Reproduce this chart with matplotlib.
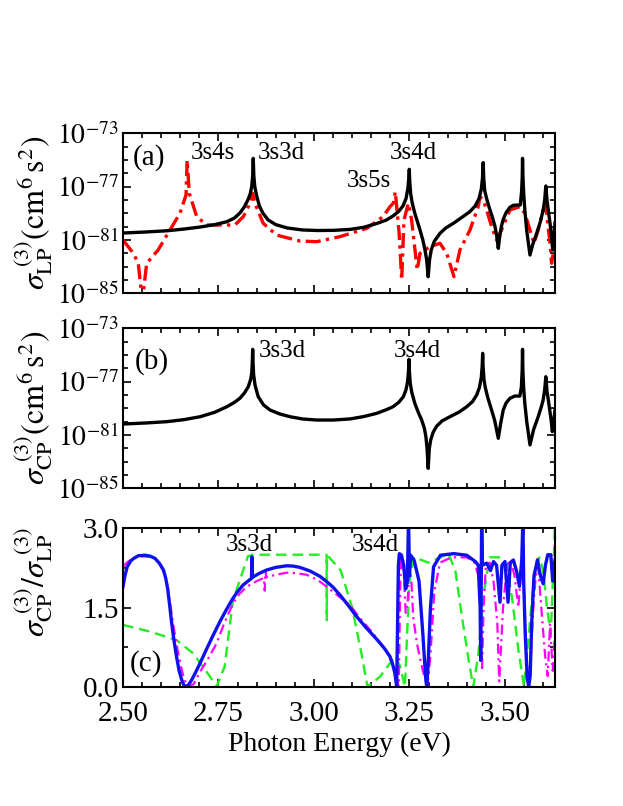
import numpy as np
import matplotlib
matplotlib.use('Agg')
import matplotlib.pyplot as plt
from matplotlib.ticker import FixedLocator, MultipleLocator, FixedFormatter, NullFormatter

plt.rcParams['font.family'] = ['Liberation Serif', 'DejaVu Serif']
plt.rcParams['mathtext.fontset'] = 'stix'

# ---------------- data (log10 of cross sections) ----------------
# panel (a) black solid
a_black_E = [2.500, 2.560, 2.615, 2.660, 2.702, 2.740, 2.772, 2.792, 2.806, 2.817, 2.827, 2.833, 2.837, 2.8395,
             2.841, 2.8425, 2.845, 2.850, 2.857, 2.8665, 2.880, 2.900, 2.930, 2.970, 3.008, 3.050, 3.094, 3.130,
             3.165, 3.190, 3.207, 3.222, 3.233, 3.241, 3.246, 3.2485, 3.2495, 3.2505, 3.253, 3.257, 3.263, 3.270,
             3.2775, 3.285, 3.2906, 3.295, 3.299, 3.3025, 3.307, 3.315, 3.330, 3.345, 3.365, 3.385, 3.408, 3.422,
             3.432, 3.438, 3.441, 3.443, 3.4445, 3.447, 3.452, 3.458, 3.466, 3.474, 3.479, 3.4825, 3.486, 3.4905,
             3.4955, 3.503, 3.513, 3.522, 3.531, 3.540, 3.5435, 3.5452, 3.546, 3.5472, 3.549, 3.552, 3.557, 3.5655,
             3.572, 3.583, 3.593, 3.600, 3.604, 3.607, 3.610, 3.614, 3.618, 3.622, 3.625, 3.628, 3.631]
a_black_L = [-80.48, -80.40, -80.31, -80.18, -80.03, -79.85, -79.63, -79.35, -78.98, -78.55, -78.0, -77.55, -77.0, -76.2,
             -74.88, -76.2, -77.0, -77.7, -78.45, -79.0, -79.5, -79.85, -80.1, -80.25, -80.29, -80.28, -80.21, -80.05,
             -79.76, -79.5, -79.2, -78.85, -78.45, -77.9, -77.1, -76.3, -75.7, -76.5, -77.5, -78.2, -78.9, -79.55,
             -80.25, -81.0, -81.75, -82.5, -83.76, -82.5, -81.75, -81.1, -80.5, -80.1, -79.75, -79.35, -78.88, -78.45,
             -77.9, -77.2, -76.4, -75.2, -76.4, -77.3, -77.9, -78.5, -79.2, -80.0, -80.8, -81.63, -80.8, -80.0,
             -79.45, -78.95, -78.55, -78.4, -78.38, -78.38, -77.4, -76.3, -74.88, -76.3, -77.5, -78.75, -80.3, -82.13,
             -81.4, -80.5, -79.6, -78.75, -78.0, -76.95, -78.0, -78.9, -79.75, -80.8, -81.75, -80.8, -79.73]

# panel (a) red dash-dot
a_red_E = [2.500, 2.527, 2.540, 2.5505, 2.562, 2.592, 2.623, 2.649, 2.665, 2.668, 2.6735, 2.693, 2.719, 2.754,
           2.793, 2.815, 2.8325, 2.8395, 2.8455, 2.867, 2.902, 2.963, 3.007, 3.068, 3.138, 3.181, 3.199, 3.2075,
           3.213, 3.2165, 3.223, 3.2296, 3.2356, 3.247, 3.2556, 3.2644, 3.2704, 3.2775, 3.3037, 3.3298, 3.3474,
           3.3665, 3.3822, 3.4084, 3.430, 3.4346, 3.443, 3.452, 3.465, 3.478, 3.491, 3.513, 3.539, 3.552, 3.5655,
           3.576, 3.587, 3.600, 3.607, 3.618, 3.622, 3.631]
a_red_L = [-81.0, -82.0, -82.75, -85.6, -82.75, -81.75, -80.25, -79.0, -77.63, -75.0, -77.5, -79.25, -79.88, -79.88,
           -79.88, -79.25, -78.25, -77.5, -78.25, -79.75, -80.63, -81.08, -81.13, -80.75, -80.13, -79.25, -78.5, -78.25,
           -77.38, -78.5, -80.5, -84.0, -79.5, -78.25, -79.5, -81.75, -83.25, -82.0, -81.5, -81.25, -82.0,
           -83.75, -81.75, -80.25, -78.5, -77.75, -78.0, -78.75, -80.0, -81.0, -80.25, -78.75, -78.5, -79.0, -80.25,
           -81.25, -80.25, -78.75, -78.5, -81.25, -82.75, -81.25]

# panel (b) black solid
b_black_E = [2.500, 2.560, 2.616, 2.660, 2.702, 2.740, 2.772, 2.792, 2.806, 2.818, 2.828, 2.834, 2.837, 2.8385,
             2.8395, 2.8405, 2.842, 2.846, 2.854, 2.868, 2.885, 2.910, 2.937, 2.970, 3.007, 3.050, 3.094, 3.130,
             3.164, 3.190, 3.207, 3.222, 3.234, 3.241, 3.245, 3.2475, 3.2487, 3.2497, 3.252, 3.256, 3.264, 3.273,
             3.282, 3.289, 3.293, 3.296, 3.299, 3.302, 3.3055, 3.312, 3.321, 3.335, 3.356, 3.380, 3.400, 3.415,
             3.426, 3.433, 3.438, 3.4405, 3.4416, 3.4428, 3.445, 3.448, 3.455, 3.465, 3.473, 3.4825, 3.489, 3.4955,
             3.503, 3.513, 3.526, 3.539, 3.543, 3.545, 3.546, 3.547, 3.549, 3.552, 3.557, 3.5655, 3.575, 3.587,
             3.595, 3.600, 3.604, 3.607, 3.610, 3.616, 3.621, 3.624, 3.628, 3.631]
b_black_L = [-80.18, -80.10, -80.0, -79.85, -79.63, -79.3, -78.88, -78.55, -78.25, -77.85, -77.38, -76.85, -76.38, -75.6,
             -74.58, -75.6, -76.5, -77.3, -78.13, -78.75, -79.13, -79.42, -79.63, -79.8, -79.88, -79.88, -79.8, -79.62,
             -79.38, -79.1, -78.88, -78.55, -78.13, -77.6, -77.0, -76.2, -75.33, -76.2, -77.1, -77.8, -78.63, -79.3,
             -79.88, -80.5, -81.13, -82.0, -83.5, -82.0, -81.38, -80.8, -80.35, -79.95, -79.63, -79.28, -78.88, -78.5,
             -78.0, -77.45, -76.7, -75.8, -74.88, -75.9, -76.8, -77.38, -78.2, -79.13, -79.9, -81.25, -80.1, -79.13,
             -78.6, -78.25, -78.08, -78.08, -77.4, -76.2, -74.58, -76.2, -77.5, -78.63, -80.0, -81.75, -80.6, -79.63,
             -78.9, -78.38, -77.6, -76.63, -77.7, -78.88, -79.9, -80.75, -79.9, -79.13]

# panel (c) ratio curves
c_blue_E = [2.500, 2.505, 2.511, 2.520, 2.528, 2.540, 2.558, 2.572, 2.584, 2.596, 2.606, 2.612, 2.617, 2.622,
            2.6275, 2.634, 2.6406, 2.647, 2.6537, 2.659, 2.665, 2.672, 2.680, 2.690, 2.7016, 2.718, 2.7364, 2.755,
            2.7715, 2.785, 2.7976, 2.815, 2.8325, 2.8365, 2.8375, 2.8385, 2.855, 2.876, 2.900, 2.9285, 2.945, 2.963,
            2.990, 3.0157, 3.035, 3.0505, 3.070, 3.094, 3.107, 3.135, 3.164, 3.185, 3.199, 3.205, 3.212, 3.2165,
            3.221, 3.2235, 3.229, 3.235, 3.240, 3.2445, 3.2475, 3.250, 3.253, 3.262, 3.275, 3.285, 3.292, 3.295,
            3.298, 3.305, 3.313, 3.331, 3.366, 3.400, 3.4225, 3.430, 3.435, 3.4365, 3.4375, 3.439, 3.441, 3.452,
            3.462, 3.470, 3.478, 3.487, 3.492, 3.500, 3.508, 3.514, 3.522, 3.530, 3.538, 3.544, 3.547, 3.549,
            3.553, 3.558, 3.562, 3.566, 3.570, 3.576, 3.585, 3.593, 3.600, 3.606, 3.612, 3.620, 3.625, 3.631]
c_blue_V = [1.895, 2.10, 2.27, 2.38, 2.43, 2.48, 2.49, 2.47, 2.43, 2.33, 2.21, 2.05, 1.85, 1.55,
            1.2, 0.85, 0.55, 0.30, 0.13, 0.03, 0.0, 0.04, 0.13, 0.27, 0.443, 0.70, 0.98, 1.25,
            1.47, 1.64, 1.78, 1.93, 2.03, 2.05, 2.46, 2.07, 2.14, 2.21, 2.26, 2.29, 2.285, 2.26,
            2.19, 2.09, 1.98, 1.88, 1.72, 1.50, 1.37, 1.13, 0.90, 0.72, 0.57, 0.45, 0.25, 0.0,
            2.3, 2.52, 2.49, 2.30, 1.85, 2.0, 3.2, 2.1, 2.49, 2.40, 2.0, 1.0, 0.2, 0.0,
            0.3, 1.5, 2.27, 2.49, 2.52, 2.49, 2.37, 2.3, 1.5, 0.5, 1.5, 3.2, 2.3, 2.34,
            2.2, 2.37, 2.3, 1.6, 2.3, 2.37, 1.6, 2.35, 2.4, 2.2, 1.9, 2.4, 3.2, 2.0,
            1.0, 0.2, 0.0, 0.2, 1.2, 2.1, 2.4, 2.1, 1.95, 2.3, 2.5, 2.5, 2.0, 2.4]

c_mag_E = [2.500, 2.510, 2.520, 2.535, 2.553, 2.570, 2.585, 2.598, 2.610, 2.618, 2.625, 2.632, 2.638, 2.644,
           2.650, 2.655, 2.660, 2.666, 2.672, 2.685, 2.700, 2.722, 2.745, 2.765, 2.788, 2.805, 2.8235, 2.850,
           2.869, 2.871, 2.873, 2.875, 2.900, 2.929, 2.955, 2.981, 3.010, 3.034, 3.060, 3.094, 3.120, 3.150,
           3.170, 3.190, 3.210, 3.222, 3.226, 3.229, 3.235, 3.240, 3.245, 3.250, 3.255, 3.260, 3.270, 3.285,
           3.297, 3.305, 3.315, 3.330, 3.360, 3.400, 3.420, 3.435, 3.440, 3.444, 3.450, 3.460, 3.470, 3.480,
           3.485, 3.495, 3.505, 3.515, 3.525, 3.535, 3.545, 3.550, 3.557, 3.562, 3.567, 3.575, 3.585, 3.595,
           3.605, 3.612, 3.618, 3.625, 3.631]
c_mag_V = [2.27, 2.35, 2.40, 2.45, 2.47, 2.46, 2.42, 2.30, 2.12, 1.85, 1.5, 1.15, 0.9, 0.65,
           0.45, 0.28, 0.15, 0.05, 0.0, 0.05, 0.26, 0.52, 0.82, 1.2, 1.58, 1.76, 1.89, 2.0,
           2.06, 1.82, 2.20, 2.07, 2.12, 2.16, 2.15, 2.12, 2.02, 1.89, 1.74, 1.55, 1.30, 1.05,
           0.87, 0.68, 0.35, 0.0, 2.0, 2.5, 2.2, 1.4, 1.6, 2.2, 2.0, 1.3, 0.8, 0.3,
           0.0, 0.6, 1.8, 2.35, 2.45, 2.45, 2.35, 2.0, 0.3, 1.5, 2.3, 2.35, 2.0, 1.2,
           0.1, 1.5, 2.3, 2.4, 2.1, 1.5, 2.5, 1.8, 0.5, 0.05, 0.5, 1.6, 2.47, 1.5,
           0.6, 0.2, 1.2, 0.3, 1.0]

c_green_E = [2.500, 2.573, 2.6406, 2.684, 2.728, 2.745, 2.766, 2.788, 2.806, 2.827, 2.840, 3.033, 3.0335, 3.034,
             3.040, 3.070, 3.100, 3.125, 3.140, 3.173, 3.212, 3.225, 3.238, 3.245, 3.250, 3.262, 3.300, 3.352,
             3.370, 3.390, 3.405, 3.417, 3.430, 3.445, 3.460, 3.490, 3.505, 3.520, 3.535, 3.550, 3.560, 3.575,
             3.590, 3.600, 3.610, 3.620, 3.628, 3.631]
c_green_V = [1.17, 1.04, 0.88, 0.63, 0.19, 0.0, 0.38, 1.64, 2.02, 2.47, 2.5, 2.5, 1.26, 2.48,
             2.45, 2.2, 1.5, 0.6, 0.0, 0.19, 0.57, 0.4, 0.0, 1.2, 2.0, 2.45, 2.35, 2.52,
             2.2, 1.2, 0.5, 0.0, 0.6, 1.8, 2.45, 2.45, 2.3, 1.6, 0.7, 0.0, 0.8, 2.0,
             2.45, 2.2, 1.5, 1.0, 2.5, 3.0]

log_major = [-85, -81, -77, -73]
log_labels = [r'$10^{-85}$', r'$10^{-81}$', r'$10^{-77}$', r'$10^{-73}$']
x_ticks = [2.50, 2.75, 3.00, 3.25, 3.50]
x_ticklabels = ['2.50', '2.75', '3.00', '3.25', '3.50']
c_ticks = [0.0, 1.5, 3.0]
c_ticklabels = ['0.0', '1.5', '3.0']

# ---------------- figure ----------------
W, H = 623, 806
fig = plt.figure(figsize=(W / 100, H / 100), dpi=100)

def rect(l, t, r, b):
    return [l / W, 1 - b / H, (r - l) / W, (b - t) / H]

axa = fig.add_axes(rect(123, 133.3, 555, 293.3))
axb = fig.add_axes(rect(123, 328.3, 555, 488.3))
axc = fig.add_axes(rect(123, 528.3, 555, 686.7))

XMIN, XMAX = 2.5, 3.631
tick_fs = 21
lab_fs = 18

def style(ax):
    ax.set_xlim(XMIN, XMAX)
    ax.xaxis.set_major_locator(FixedLocator(x_ticks))
    ax.xaxis.set_minor_locator(MultipleLocator(0.05))
    ax.tick_params(which='both', direction='in', top=True, right=True, width=1.2, labelsize=tick_fs)
    ax.tick_params(which='major', length=6)
    ax.tick_params(which='minor', length=3.5)
    ax.tick_params(axis='x', pad=10)
    ax.tick_params(axis='y', pad=3)
    for s in ax.spines.values():
        s.set_linewidth(1.5)

for ax in (axa, axb):
    ax.set_yscale('log')
    ax.set_ylim(1e-85, 1e-73)
    ax.yaxis.set_major_locator(FixedLocator([10.0 ** v for v in log_major]))
    ax.yaxis.set_major_formatter(FixedFormatter(log_labels))
    ax.yaxis.set_minor_locator(FixedLocator([10.0 ** v for v in range(-85, -72)]))
    ax.yaxis.set_minor_formatter(NullFormatter())
    style(ax)
    ax.tick_params(axis='y', labelsize=20)
    ax.set_xticklabels([])

axa.plot(a_red_E, [10.0 ** v for v in a_red_L], color='#ff0000', lw=2.4, dashes=(4.5, 1.6, 1.0, 1.6))
axa.plot(a_black_E, [10.0 ** v for v in a_black_L], color='black', lw=2.4)
axb.plot(b_black_E, [10.0 ** v for v in b_black_L], color='black', lw=2.4)

axc.set_ylim(0, 3.0)
axc.yaxis.set_major_locator(FixedLocator(c_ticks))
axc.yaxis.set_major_formatter(FixedFormatter(c_ticklabels))
axc.yaxis.set_minor_locator(MultipleLocator(0.75))
style(axc)
axc.set_xticklabels(x_ticklabels)
axc.plot(c_green_E, c_green_V, color='#22ee22', lw=1.7, dashes=(4.5, 2.5))
axc.plot(c_mag_E, c_mag_V, color='#ff00ff', lw=1.6, dashes=(4.5, 2, 1, 2))
axc.plot(c_blue_E, c_blue_V, color='#1010ee', lw=2.4)
axc.set_xlabel('Photon Energy (eV)', fontsize=20, labelpad=4)

# annotations
axa.text(2.526, 10 ** -74.78, '(a)', fontsize=21, va='center', ha='left')
axa.text(2.736, 10 ** -74.48, '3s4s', fontsize=lab_fs, ha='center', va='center')
axa.text(2.914, 10 ** -74.48, '3s3d', fontsize=lab_fs, ha='center', va='center')
axa.text(3.259, 10 ** -74.48, '3s4d', fontsize=lab_fs, ha='center', va='center')
axa.text(3.144, 10 ** -76.58, '3s5s', fontsize=lab_fs, ha='center', va='center')

axb.text(2.531, 10 ** -75.46, '(b)', fontsize=21, va='center', ha='left')
axb.text(2.916, 10 ** -74.71, '3s3d', fontsize=lab_fs, ha='center', va='center')
axb.text(3.270, 10 ** -74.71, '3s4d', fontsize=lab_fs, ha='center', va='center')

axc.text(2.518, 0.43, '(c)', fontsize=21, va='center', ha='left')
axc.text(2.830, 2.68, '3s3d', fontsize=lab_fs, ha='center', va='center')
axc.text(3.160, 2.68, '3s4d', fontsize=lab_fs, ha='center', va='center')

axa.set_ylabel(r'$\sigma_{\rm LP}^{\ (3)}({\rm cm}^{6}\,{\rm s}^{2})$', fontsize=23)
axb.set_ylabel(r'$\sigma_{\rm CP}^{\ (3)}({\rm cm}^{6}\,{\rm s}^{2})$', fontsize=23)
axc.set_ylabel(r'$\sigma_{\rm CP}^{\ (3)}/\sigma_{\rm LP}^{\ (3)}$', fontsize=23)
for ax in (axa, axb):
    ax.yaxis.set_label_coords(-0.158, 0.5)
axc.yaxis.set_label_coords(-0.158, 0.66)

fig.savefig('out.png', dpi=100)
